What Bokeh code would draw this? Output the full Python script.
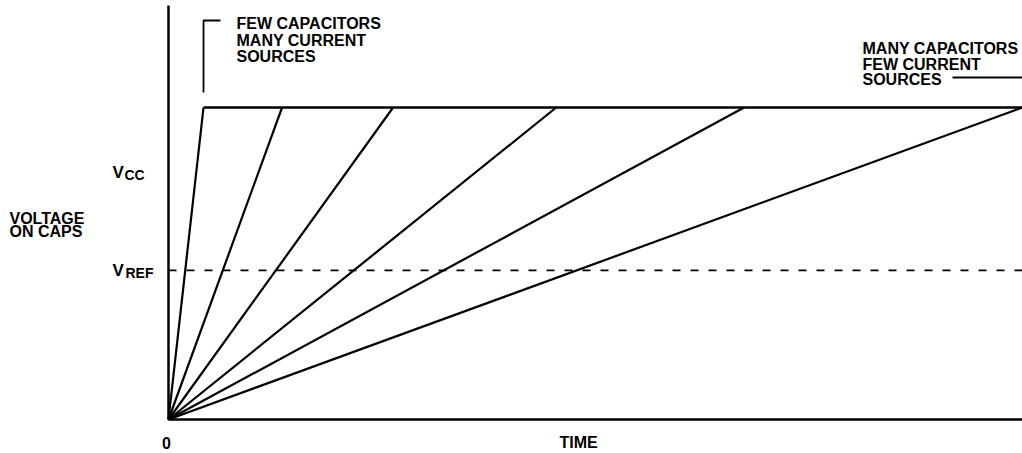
from bokeh.plotting import figure
from bokeh.models import Range1d
from bokeh.core.properties import value
from bokeh.embed import file_html
from bokeh.resources import INLINE

# ---------------- data ----------------
RAMP_END_TIME = [4.1, 13.3, 26.3, 45.4, 67.4, 100.0]   # time at which each capacitor bank saturates
V_SAT = 1.0        # saturation voltage (plateau)
V_CC = 0.79        # Vcc level label
V_REF = 0.478      # reference voltage (dashed)
T_MAX = 100.0

Y_LABEL = ["VOLTAGE", "ON CAPS"]
X_LABELS = ["0", "TIME"]
NOTE_LEFT = ["FEW CAPACITORS", "MANY CURRENT", "SOURCES"]
NOTE_RIGHT = ["MANY CAPACITORS", "FEW CURRENT", "SOURCES"]
LEVEL_MAIN = ["V", "V"]
LEVEL_SUB = ["CC", "REF"]

# ---------------- layout ----------------
W, H = 1022, 453
OX, OY = 168, 419          # canvas pixel of the origin
SX = (W - OX) / T_MAX      # px per time unit
SY = 312.0                 # px per voltage unit
TDY = 5                    # text baseline correction (px)

def tx(px):
    return (px - OX) / SX

def vy(py):
    return (OY - py) / SY

def ty(py):
    return vy(py - TDY)

p = figure(width=W, height=H, output_backend="svg", toolbar_location=None,
           x_range=Range1d(-OX / SX, T_MAX), y_range=Range1d(-(H - OY) / SY, OY / SY),
           x_axis_location=None, y_axis_location=None, min_border=0)
p.outline_line_color = None
p.xgrid.visible = False
p.ygrid.visible = False
p.background_fill_color = "white"
p.border_fill_color = "white"

FONT = value("Liberation Sans")

# axes
p.segment(x0=[0, 0], y0=[0, 0], x1=[0, T_MAX], y1=[vy(5), 0],
          line_color="black", line_width=2.5)

# ramps
n = len(RAMP_END_TIME)
p.segment(x0=[0] * n, y0=[0] * n, x1=RAMP_END_TIME, y1=[V_SAT] * n,
          line_color="black", line_width=2.2)

# plateau
p.line(x=[RAMP_END_TIME[0], T_MAX], y=[V_SAT, V_SAT], line_color="black", line_width=2.4)

# Vref dashed
p.line(x=[0, T_MAX], y=[V_REF, V_REF], line_color="black", line_width=1.6,
       line_dash="8 10")

# bracket (left callout)
bx = RAMP_END_TIME[0]
p.line(x=[bx, bx, tx(220)], y=[vy(92), vy(20), vy(20)], line_color="black", line_width=1.8)

# right callout line
p.line(x=[tx(952), T_MAX], y=[vy(77), vy(77)], line_color="black", line_width=1.8)

# main texts
txt_x = [tx(236)] * 3 + [tx(862)] * 3 + [tx(9)] * 2 + [tx(112), tx(112), tx(559)]
txt_y = [ty(28), ty(44.5), ty(61), ty(53), ty(68.5), ty(84), ty(223), ty(236),
         ty(177), ty(275), ty(447)]
txt = NOTE_LEFT + NOTE_RIGHT + Y_LABEL + LEVEL_MAIN + [X_LABELS[1]]
sizes = ["16px"] * 8 + ["17px", "17px", "16px"]
p.text(x=txt_x, y=txt_y, text=txt, text_font=FONT, text_font_style="bold",
       text_font_size=sizes, text_baseline="alphabetic", text_align="left",
       text_color="black")

# zero label
p.text(x=[tx(166)], y=[ty(447)], text=[X_LABELS[0]], text_font=FONT, text_font_style="bold",
       text_font_size="16px", text_baseline="alphabetic", text_align="center",
       text_color="black")

# subscripts
p.text(x=[tx(124), tx(125)], y=[ty(179), ty(277)], text=LEVEL_SUB, text_font=FONT,
       text_font_style="bold", text_font_size="14px", text_baseline="alphabetic",
       text_align="left", text_color="black")

open("out.html", "w").write(file_html(p, INLINE))
